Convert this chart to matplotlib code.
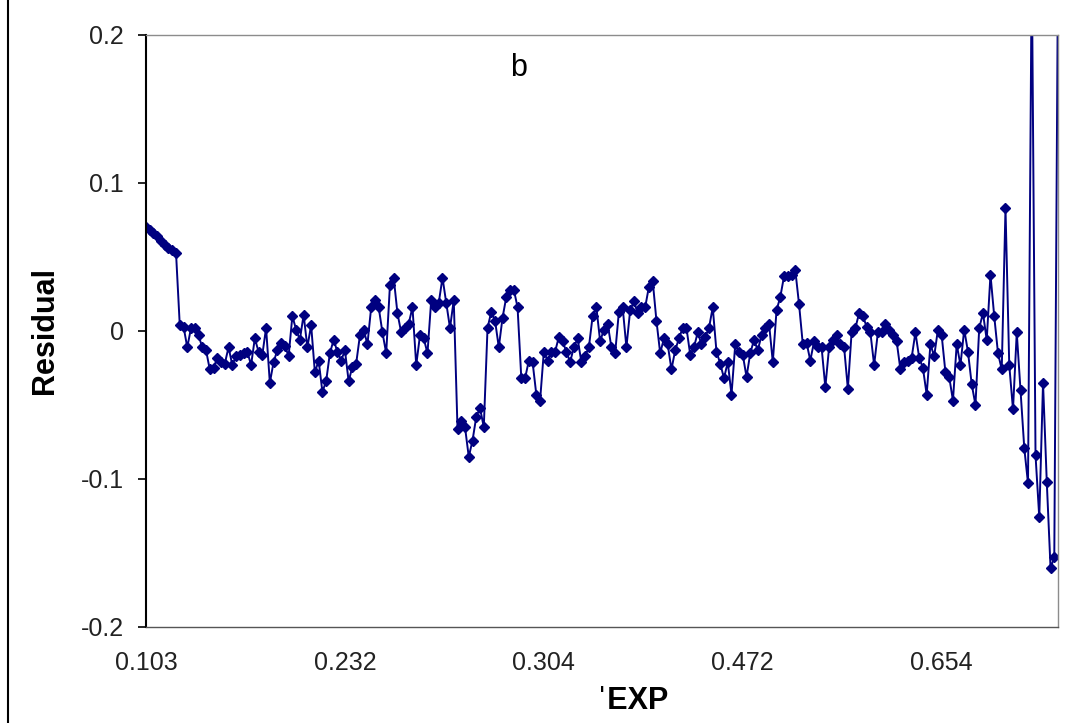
import numpy as np
import matplotlib
matplotlib.use("Agg")
import matplotlib.pyplot as plt
from matplotlib.patches import Rectangle
from matplotlib.ticker import FuncFormatter

plt.rcParams['font.family'] = ['Liberation Sans', 'DejaVu Sans']
plt.rcParams['axes.unicode_minus'] = False

# residuals, in category order
resid_start = [0.070, 0.068, 0.066, 0.064, 0.061, 0.058, 0.056, 0.055, 0.053]
resid_a = [0.004, 0.003, -0.011, 0.002, 0.002, -0.003, -0.011, -0.013, -0.026, -0.025,
           -0.018, -0.021, -0.022, -0.011, -0.023, -0.017, -0.016, -0.015, -0.014, -0.023,
           -0.005, -0.014, -0.016, 0.002, -0.035, -0.021, -0.013, -0.008, -0.010, -0.017,
           0.010, 0.001, -0.006, 0.011, -0.011, 0.004, -0.028, -0.020, -0.041, -0.034,
           -0.015, -0.006, -0.014, -0.020, -0.013, -0.034, -0.024, -0.022, -0.003, 0.001,
           -0.009, 0.016, 0.021]
resid_b = [0.016, -0.001, -0.015, 0.031, 0.036, 0.012, -0.001, 0.002, 0.005, 0.016,
           -0.023, -0.003, -0.005, -0.015, 0.021, 0.016, 0.019, 0.036, 0.019, 0.002,
           0.021, -0.066, -0.061, -0.065, -0.085, -0.074, -0.058, -0.052, -0.065, 0.002,
           0.013, 0.007, -0.011, 0.009, 0.023, 0.028, 0.028, 0.016, -0.032, -0.032,
           -0.020, -0.021, -0.043, -0.047, -0.014, -0.020, -0.014, -0.014, -0.004, -0.007,
           -0.014, -0.021, -0.011, -0.005, -0.021, -0.017, -0.011, 0.010, 0.016, -0.007,
           0.001, 0.005, -0.011]
resid_c = [-0.015, 0.013, 0.016, -0.011, 0.014, 0.020, 0.012, 0.016, 0.016, 0.030,
           0.034, 0.007, -0.015, -0.005, -0.009, -0.026, -0.013, -0.005, 0.002, 0.002,
           -0.016, -0.011, -0.001, -0.009, -0.004, 0.002, 0.016, -0.014, -0.022, -0.032,
           -0.021, -0.043, -0.009, -0.014, -0.016, -0.031, -0.015, -0.006, -0.013, -0.003,
           0.002, 0.005, -0.021, 0.014, 0.023, 0.037, 0.037, 0.038, 0.041, 0.018,
           -0.009, -0.008, -0.020, -0.007, -0.011, -0.011, -0.038, -0.011, -0.006, -0.003,
           -0.009]
resid_end = [-0.011, -0.039, -0.001, 0.002, 0.012, 0.010, 0.003, -0.001, -0.023, -0.001,
             -0.001, 0.005, 0.001, -0.003, -0.007, -0.026, -0.021, -0.020, -0.018, -0.001,
             -0.018, -0.025, -0.043, -0.009, -0.017, 0.001, -0.003, -0.028, -0.031, -0.047,
             -0.009, -0.023, 0.001, -0.014, -0.036, -0.050, 0.002, 0.012, -0.006, 0.038,
             0.010, -0.015, -0.026, 0.083, -0.023, -0.053, -0.001, -0.040, -0.079, -0.103,
             0.25, -0.084, -0.126, -0.035, -0.102, -0.160, -0.153, 0.25]

exp_labels = ['0.103', '0.232', '0.304', '0.472', '0.654']
label_step = 53

resid = resid_start + resid_a + resid_b + resid_c + resid_end
x = np.arange(len(resid))

fig = plt.figure(figsize=(10.71, 7.23), dpi=100)
ax = fig.add_axes([0.1363, 0.1328, 0.8516, 0.8188])

ax.plot(x, resid, color='#000080', lw=1.4, marker='D', ms=5.2,
        mec='#000080', mfc='#000080')

ax.set_xlim(0, len(resid) - 1)
ax.set_ylim(-0.2, 0.2)
ax.set_yticks([-0.2, -0.1, 0, 0.1, 0.2])
ax.yaxis.set_major_formatter(FuncFormatter(lambda v, p: '{:g}'.format(round(v, 2))))
ax.set_xticks([i * label_step for i in range(len(exp_labels))])
ax.set_xticklabels(exp_labels)

ax.tick_params(axis='y', direction='out', length=6, width=1.2, pad=10,
               labelsize=18, colors='black')
ax.tick_params(axis='x', length=0, pad=17, labelsize=18)
for lab in ax.get_yticklabels() + ax.get_xticklabels():
    lab.set_color('#222222')

ax.spines['left'].set_color('black')
ax.spines['left'].set_linewidth(1.5)
ax.spines['bottom'].set_color('#555555')
ax.spines['bottom'].set_linewidth(1.0)
for s in ['top', 'right']:
    ax.spines[s].set_color('#8c8c8c')
    ax.spines[s].set_linewidth(1.0)

ax.set_ylabel('Residual', fontsize=22, fontweight='bold')
ax.yaxis.set_label_coords(-0.094, 0.5)
ax.set_xlabel('\u02c8EXP', fontsize=22, fontweight='bold')
ax.xaxis.set_label_coords(0.534, -0.1)

ax.text(0.408, 0.945, 'b', transform=ax.transAxes, fontsize=22,
        ha='center', va='center')

# chart area border (runs off the right and bottom of the image)
fig.patches.append(Rectangle((8 / 1071, -0.2), 1.3, 1.2 + (1 - 11 / 723),
                             transform=fig.transFigure, fill=False,
                             edgecolor='black', lw=1.5))

fig.savefig('out.png', dpi=100)
